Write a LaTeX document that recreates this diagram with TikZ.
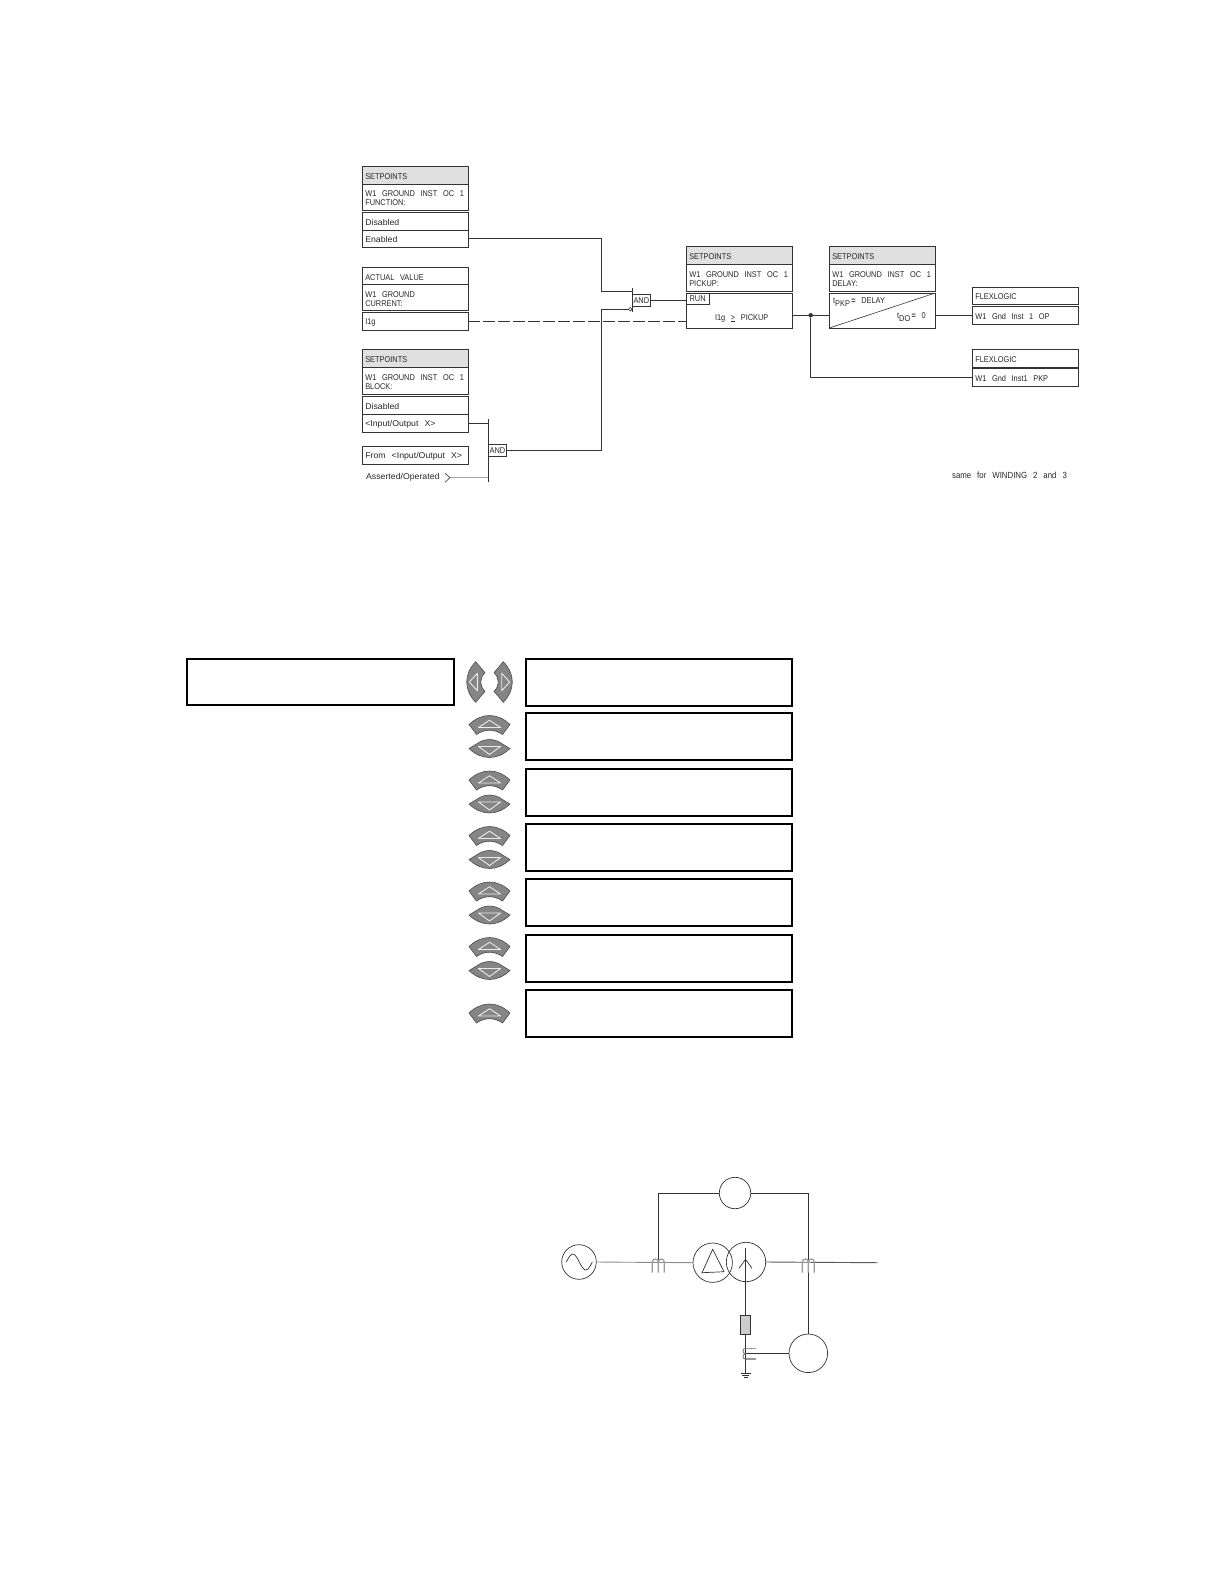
\documentclass[tikz,border=0pt]{standalone}
\usepackage{fontspec}
\setmainfont[FakeStretch=0.88,WordSpace=2.75]{Liberation Sans}
\newfontfamily\widefont[FakeStretch=1.04,WordSpace=2.5]{Liberation Sans}
\usetikzlibrary{positioning}

\newcommand{\lowtxt}[1]{\raisebox{-3pt}{#1}}

\tikzset{
    keyup/.pic={
        \path[keyshape] (-20.5,9) .. controls (-8,-3) and (8,-3) .. (20.5,9) -- (13,19)
            .. controls (5,13.3) and (-5,13.3) .. (-13,19) -- cycle;
        \path[keymark] (0,4.7) -- (11,12) -- (-11,12) -- cycle;
    },
    keydn/.pic={
        \path[keyshape] (-13,28.5) .. controls (-5,22.5) and (5,22.5) .. (13,28.5) -- (20.5,33)
            .. controls (8,45) and (-8,45) .. (-20.5,33) -- cycle;
        \path[keymark] (-11,31) -- (11,31) -- (0,39) -- cycle;
    },
    keyside/.pic={
        \path[keyshape] (0,-20.3) .. controls (-12,-8) and (-12,8) .. (0,20.3) -- (9.3,9.3)
            .. controls (3.6,4) and (3.6,-4) .. (9.3,-9.3) -- cycle;
        \path[keymark] (-6.4,0) -- (1.6,-8.7) -- (1.6,8.7) -- cycle;
    },
    ctcoil/.pic={
        \draw[ctline] (-6,10.5) -- (-6,0) arc[start angle=180, end angle=360, radius=3]
            -- (0,10.5) (0,0) arc[start angle=180, end angle=360, radius=3] -- (6,10.5);
    }
}

\begin{document}
\begin{tikzpicture}[
    x=1pt,y=-1pt,
    line width=0.9pt,
    draw=black!80,
    every node/.style={text=black!85, font=\fontsize{8.4}{8.8}\selectfont},
    rowbox/.style={draw, rectangle, outer sep=0pt, inner ysep=0pt, inner xsep=3pt,
        text width=100pt, align=flush left, minimum width=106pt,
        execute at begin node={\rule{0pt}{8.1pt}}},
    widerow/.style={rowbox, font=\fontsize{8.4}{8.8}\widefont},
    topbox/.style={rowbox, anchor=north west, minimum height=17.6pt},
    headbox/.style={topbox, fill=black!12},
    gatebox/.style={draw, rectangle, outer sep=0pt, inner sep=0pt, minimum width=17.5pt, minimum height=12.3pt},
    lcdbox/.style={draw=black, line width=2pt, rectangle, outer sep=0pt, anchor=north west, minimum height=47pt},
    plaintext/.style={inner sep=0pt},
    keyshape/.style={draw=black!70, fill=black!48, line width=0.6pt},
    keymark/.style={draw=black!8, line width=0.9pt, line join=round},
    ctline/.style={draw=black!40, line width=1.2pt},
    relay/.style={draw, circle, outer sep=0pt, inner sep=0pt, line width=0.7pt}
]
\useasboundingbox (0,0) rectangle (1224,1584);

% Winding function setpoint
\node[headbox]                                        (fnhead)  at (362.3,166.7) {SETPOINTS};
\node[rowbox, below=0pt of fnhead, minimum height=26pt] (fntitle) {W1 GROUND INST OC 1\\FUNCTION:};
\node[widerow, below=2pt of fntitle, minimum height=18pt] (fnoff)  {Disabled};
\node[widerow, below=0pt of fnoff, minimum height=17pt]   (fnon)   {Enabled};

% Actual value
\node[topbox]                                         (avhead)  at (362.3,267.3) {ACTUAL VALUE};
\node[rowbox, below=0pt of avhead, minimum height=26pt] (avtitle) {W1 GROUND\\CURRENT:};
\node[rowbox, below=2pt of avtitle, minimum height=17.7pt] (avrow) {I1g};

% Block setpoint
\node[headbox]                                        (blhead)  at (362.3,349.7) {SETPOINTS};
\node[rowbox, below=0pt of blhead, minimum height=27pt] (bltitle) {W1 GROUND INST OC 1\\BLOCK:};
\node[widerow, below=2pt of bltitle, minimum height=18pt] (bloff)  {Disabled};
\node[widerow, below=0pt of bloff, minimum height=18pt]   (blio)   {<Input/Output X>};
\node[topbox, font=\fontsize{8.4}{8.8}\widefont]      (blfrom)  at (362.3,446.7) {From <Input/Output X>};
\node[plaintext, anchor=west, font=\fontsize{8.4}{8.8}\widefont] (blasrt) at (365.7,477.7) {Asserted/Operated};

% Pickup and delay
\node[headbox]                                        (pkhead)  at (686.3,246.7) {SETPOINTS};
\node[rowbox, below=0pt of pkhead, minimum height=26.7pt] (pktitle) {W1 GROUND INST OC 1\\PICKUP:};
\node[rowbox, below=2pt of pktitle, minimum height=35pt]  (pkrow)   {};
\node[gatebox, anchor=north west, minimum width=22.7pt, minimum height=11.3pt] (pkrun) at (pkrow.north west) {RUN};
\node[plaintext]                                      (pktext)  at (741.7,318.3) {I1g \underline{>} PICKUP};

\node[headbox]                                        (dlhead)  at (829.3,246.7) {SETPOINTS};
\node[rowbox, below=0pt of dlhead, minimum height=26.7pt] (dltitle) {W1 GROUND INST OC 1\\DELAY:};
\node[rowbox, below=2pt of dltitle, minimum height=35pt]  (dlrow)   {};
\node[plaintext, anchor=west]                         (dlpkp)   at (832.7,302) {t\lowtxt{PKP}\,\textbf{=} DELAY};
\node[plaintext, anchor=west]                         (dldo)    at (896.7,317.5) {t\lowtxt{DO}\,\textbf{=} 0};

% FlexLogic outputs
\node[topbox, minimum height=17pt]                    (flexa)   at (972.3,287.3) {FLEXLOGIC};
\node[rowbox, below=2pt of flexa, minimum height=18pt]   (flexop)  {W1 Gnd Inst 1 OP};
\node[topbox, minimum height=18.4pt]                  (flexb)   at (972.3,349.3) {FLEXLOGIC};
\node[rowbox, below=0pt of flexb, minimum height=18.6pt] (flexpk)  {W1 Gnd Inst1 PKP};
\node[plaintext, font=\fontsize{8.9}{9}\selectfont]   (samenote) at (1009.5,475.3) {same for WINDING 2 and 3};

% Gates
\node[gatebox] (andtop) at (641.3,300.5) {AND};
\node[gatebox] (andlow) at (497.5,450.2) {AND};
\node[draw, circle, inner sep=0pt, minimum size=3.6pt, outer sep=0pt, line width=0.6pt] (andnot) at (630.3,309.3) {};
\coordinate (topbara) at (632.3,287.7);
\coordinate (topbarb) at (632.3,312.3);
\coordinate (topin)   at (632.3,291.3);
\coordinate (lowbara) at (488.3,419.3);
\coordinate (lowbarb) at (488.3,481.7);
\coordinate (jointa)  at (601.3,291.3);
\coordinate (jointb)  at (601.3,309.3);
\coordinate (astip)   at (450,477.7);

\draw (topbara) -- (topbarb);
\draw (lowbara) -- (lowbarb);

% Connections
\draw (fnon.east) -| (jointa) -- (topin);
\draw (andlow.east) -| (jointb) -- (andnot.west);
\draw[dash pattern=on 11.5pt off 3.5pt] (avrow.east) -- (avrow.east -| pkrow.west);
\draw (andtop.east) -- (andtop.east -| pkrun.west);
\draw (blio.east) -- (blio.east -| lowbara);
\draw[black!35, line width=1.3pt] (astip) -- (astip -| lowbara);
\draw[line width=0.6pt] (445,473.3) -- (astip) -- (445,482.3);

\node[fill=black!80, circle, inner sep=0pt, minimum size=4.5pt] (tap) at (810.7,315.3) {};
\draw (pkrow.east |- flexop.west) -- (dlrow.west |- flexop.west);
\draw (dlrow.east |- flexop.west) -- (flexop.west);
\draw (tap) |- (flexpk.west);
\draw[line width=0.6pt] (dlrow.south west) -- (dlrow.north east);
\draw[line width=1.8pt] (flexb.south west) -- (flexb.south east);

% Display windows
\node[lcdbox, minimum width=267pt, minimum height=46.5pt] (lcdmain) at (187.3,658.5) {};
\foreach \i/\y in {0/658.5, 1/712.7, 2/769, 3/824, 4/878.5, 5/934.7, 6/990.3}
    \node[lcdbox, minimum width=266pt] (lcd\i) at (525.7,\y) {};

% Keys
\pic at (475.7,682) {keyside};
\pic[xscale=-1] at (503.3,682) {keyside};
\foreach \y in {715.5, 771, 826.5, 882, 937.5} {
    \pic at (489.5,\y) {keyup};
    \pic at (489.5,\y) {keydn};
}
\pic at (489.5,1004) {keyup};

% One line diagram
\node[relay, minimum size=34.6pt] (source)  at (579,1262) {};
\node[relay, minimum size=39.4pt] (delta)   at (712.7,1262.7) {};
\node[relay, minimum size=39.4pt] (wye)     at (746,1262) {};
\node[relay, minimum size=31.4pt] (diffrly) at (735,1193) {};
\node[relay, minimum size=38.6pt] (gndrly)  at (808.3,1353.3) {};
\node[draw, rectangle, fill=black!20, outer sep=0pt, inner sep=0pt, minimum width=10pt, minimum height=19pt] (resist) at (745.6,1324.8) {};
\coordinate (busend) at (877.7,1262.7);
\coordinate (ctleft) at (658.3,1260);
\coordinate (wyetop) at (745.6,1247.7);
\coordinate (earth)  at (745.6,1372.7);
\coordinate (cbct)   at (745.6,1353.3);

\draw[black!45] (source.east) -- (delta.west);
\draw[black!65] (wye.east) -- (busend);
\draw (diffrly.west) -| (ctleft);
\draw (diffrly.east) -| (gndrly.north);
\draw (wyetop) -- (resist.north);
\draw (resist.south) -- (earth);
\draw (cbct) -- (gndrly.west);

\pic at (658.3,1262) {ctcoil};
\pic at (808.3,1262) {ctcoil};

\draw[line width=0.7pt] (566.3,1262) sin (572.8,1254) cos (579.3,1262) sin (585.8,1270) cos (592.3,1262);
\draw[line width=0.7pt] (delta.center) ++(0,-13.4) -- ++(-10.7,23.4) -- ++(22,-1) -- cycle;
\draw[line width=0.7pt] (739,1268.3) -- (745.6,1259.3) -- (752,1268.3);
\draw[ctline] (745.6,1348.3) -- (756,1348.3) (745.6,1359) -- (756,1359);
\draw[draw=black!55, line width=0.8pt] (745.6,1348.3) arc[start angle=270, end angle=90, radius=2.7]
    arc[start angle=270, end angle=90, radius=2.7];
\draw (740.5,1373.3) -- (750.5,1373.3) (742,1375.6) -- (749,1375.6) (743.7,1377.7) -- (747.5,1377.7);

\end{tikzpicture}
\end{document}
